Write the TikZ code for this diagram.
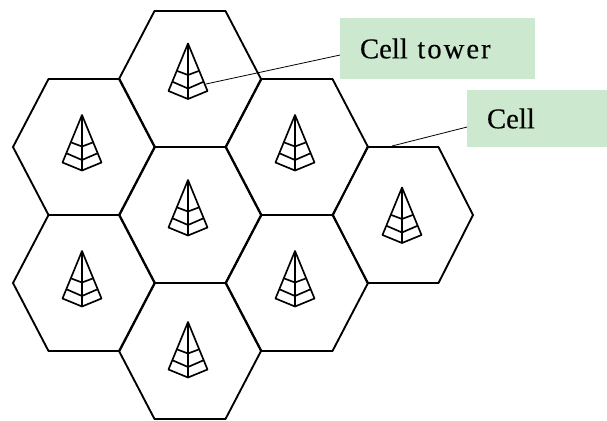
\documentclass[tikz,border=0pt]{standalone}
\usepackage{fontspec}
\setmainfont{Liberation Serif}
\definecolor{boxgreen}{HTML}{CCE8CF}
\tikzset{
  x=0.75pt,y=-0.75pt,
  hexcell/.style={draw=black,line width=1.4pt,line join=round},
  towerline/.style={draw=black,line width=1.25pt,line join=round},
  lab/.style={fill=boxgreen,inner ysep=0pt,inner xsep=15pt,outer sep=0pt,anchor=north west,font=\fontsize{21.5}{24}\selectfont,align=left},
  leader/.style={draw=black,line width=0.6pt}
}
\newcommand{\hexcellat}[3][71]{%
  \draw[hexcell,shift={(#2,#3)}] (-#1,0) -- (-35.5,-68) -- (35.5,-68) -- (#1,0) -- (35.5,68) -- (-35.5,68) -- cycle;}
\newcommand{\celltower}[2]{%
  \begin{scope}[shift={(#1,#2)}]
    \draw[towerline] (0,0) -- (-19.5,47.5) -- (0,55.5) -- (19.5,47.5) -- cycle;
    \draw[towerline] (0,0) -- (0,55.5);
    \draw[towerline] (-10.7,27.5) -- (0,31.5) -- (10.7,27.5);
    \draw[towerline] (-15,38.5) -- (0,45) -- (15,38.5);
  \end{scope}}
\begin{document}
\begin{tikzpicture}
\useasboundingbox (0,0) rectangle (607,421);
\hexcellat{190}{79}
\hexcellat{84}{147}
\hexcellat{297}{147}
\hexcellat{190}{215}
\hexcellat{84}{283}
\hexcellat{297}{283}
\hexcellat{190}{351}
\hexcellat[70]{403}{215}
\celltower{188}{43.5}
\celltower{82}{115}
\celltower{295}{115}
\celltower{188}{180}
\celltower{82}{251}
\celltower{295}{251}
\celltower{188}{322}
\celltower{402}{187.5}
\node[lab,minimum width=146.25pt,minimum height=45.75pt,text width=116.25pt] (boxa) at (340,18) {\addfontfeature{FakeBold=0.25}Cell {\addfontfeature{LetterSpace=7}tower}};
\node[lab,minimum width=105pt,minimum height=42.75pt,text width=75pt] (boxb) at (467,90) {\addfontfeature{FakeBold=0.25}Cell};
\coordinate (towerpt) at (206,84);
\coordinate (cellpt) at (392,146);
\draw[leader] (towerpt) -- ([yshift=-4.9pt]boxa.west);
\draw[leader] (cellpt) -- ([yshift=-6.4pt]boxb.west);
\end{tikzpicture}
\end{document}
